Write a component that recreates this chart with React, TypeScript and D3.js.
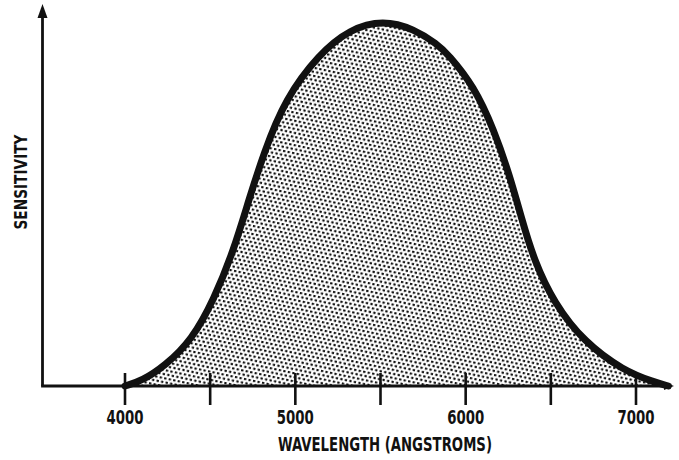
import React from "react";
import * as d3 from "d3";

const wavelengths = [4000, 4100, 4235, 4393, 4522, 4640, 4728, 4816, 4940, 5139, 5320, 5515, 5700, 5832, 5896, 6049, 6166, 6260, 6330, 6400, 6518, 6695, 6930, 7100, 7190];
const sensitivity = [0, 0.014, 0.055, 0.126, 0.236, 0.373, 0.51, 0.638, 0.784, 0.907, 0.975, 1.0, 0.975, 0.934, 0.907, 0.819, 0.70, 0.573, 0.455, 0.345, 0.227, 0.12, 0.041, 0.012, 0];
const tickValues = [4000, 4500, 5000, 5500, 6000, 6500, 7000];
const tickLabels = ["4000", "", "5000", "", "6000", "", "7000"];
const xTitle = "WAVELENGTH (ANGSTROMS)";
const yTitle = "SENSITIVITY";

const W = 679;
const H = 460;
const FONT = "'DejaVu Sans Condensed', 'Liberation Sans Narrow', 'Roboto', sans-serif";

export default function App() {
  const x = d3.scaleLinear().domain([4000, 7000]).range([125, 636]);
  const y = d3.scaleLinear().domain([0, 1]).range([386, 20]);
  const data = wavelengths.map((w, i) => ({ w, s: sensitivity[i] }));
  const area = d3
    .area<{ w: number; s: number }>()
    .x((d) => x(d.w))
    .y0(y(0))
    .y1((d) => y(d.s))
    .curve(d3.curveBasis);
  const line = d3
    .line<{ w: number; s: number }>()
    .x((d) => x(d.w))
    .y((d) => y(d.s))
    .curve(d3.curveBasis);

  const x0 = 42.5;
  const yb = y(0);
  const xEnd = 668;

  return (
    <svg
      width={W}
      height={H}
      style={{ position: "absolute", left: 0, top: 0, background: "#fff" }}
    >
      <defs>
        <pattern id="stipple" patternUnits="userSpaceOnUse" width={4.6} height={7.97} patternTransform="rotate(12)">
          <circle cx={1.15} cy={1.0} r={1.35} fill="#111" />
          <circle cx={3.45} cy={4.98} r={1.35} fill="#111" />
        </pattern>
      </defs>
      <path d={area(data) || ""} fill="url(#stipple)" />
      <line x1={x0} y1={yb} x2={x0} y2={16} stroke="#111" strokeWidth={2.8} />
      <path d={`M${x0 - 5},${18} L${x0},${4} L${x0 + 5},${18} Z`} fill="#111" />
      <line x1={x0 - 1.4} y1={yb} x2={xEnd} y2={yb} stroke="#111" strokeWidth={2.8} />
      <path d={`M${xEnd - 4},${yb - 4} L${xEnd + 6},${yb} L${xEnd - 4},${yb + 4} Z`} fill="#111" />
      {tickValues.map((t, i) => (
        <g key={t}>
          <line x1={x(t)} x2={x(t)} y1={373} y2={405} stroke="#111" strokeWidth={2.6} />
          {tickLabels[i] && (
            <text
              x={x(t)}
              y={424}
              textAnchor="middle"
              fontFamily={FONT}
              fontWeight="bold"
              fontSize={19}
              textLength={37}
              lengthAdjust="spacingAndGlyphs"
              fill="#111"
            >
              {tickLabels[i]}
            </text>
          )}
        </g>
      ))}
      <path d={line(data) || ""} fill="none" stroke="#111" strokeWidth={7} strokeLinecap="round" />
      <text
        x={385}
        y={451}
        textAnchor="middle"
        fontFamily={FONT}
        fontWeight="bold"
        fontSize={19}
        textLength={214}
        lengthAdjust="spacingAndGlyphs"
        fill="#111"
      >
        {xTitle}
      </text>
      <text
        transform={`translate(27,182) rotate(-90)`}
        textAnchor="middle"
        fontFamily={FONT}
        fontWeight="bold"
        fontSize={17}
        textLength={95}
        lengthAdjust="spacingAndGlyphs"
        fill="#111"
      >
        {yTitle}
      </text>
    </svg>
  );
}
